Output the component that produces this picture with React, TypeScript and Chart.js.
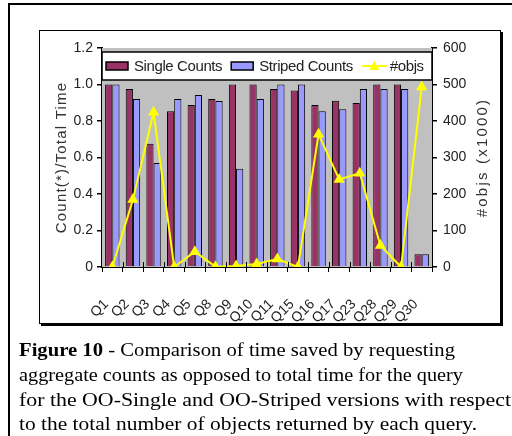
import React, { useEffect, useLayoutEffect, useRef } from 'react';
import { Chart, registerables } from 'chart.js';

Chart.register(...registerables);

const categories = ['Q1', 'Q2', 'Q3', 'Q4', 'Q5', 'Q8', 'Q9', 'Q10', 'Q11', 'Q15', 'Q16', 'Q17', 'Q23', 'Q28', 'Q29', 'Q30'];
const singleCounts = [1.0, 0.976, 0.676, 0.854, 0.887, 0.92, 1.0, 1.0, 0.976, 0.967, 0.887, 0.911, 0.898, 1.0, 1.0, 0.07];
const stripedCounts = [1.0, 0.92, 0.57, 0.92, 0.943, 0.91, 0.539, 0.92, 1.0, 1.0, 0.854, 0.865, 0.976, 0.976, 0.976, 0.07];
const objs = [0, 185, 424, 0, 42, 1, 3, 8, 22, 0, 364, 240, 257, 59, 0, 493];

const leftTitle = 'Count(*)/Total Time';
const rightTitle = '#objs (x1000)';
const captionLines = [
  ['Figure 10', ' - Comparison of time saved by requesting'],
  ['', 'aggregate counts as opposed to total time for the query'],
  ['', 'for the OO-Single and OO-Striped versions with respect'],
  ['', 'to the total number of objects returned by each query.'],
];
const captionWidths = [436, 444, 492, 458];

const SANS = "'Liberation Sans', Arial, sans-serif";

const bgPlugin = {
  id: 'plotBg',
  beforeDatasetsDraw(chart: any) {
    const { ctx, chartArea: a } = chart;
    ctx.save();
    ctx.fillStyle = '#C0C0C0';
    ctx.fillRect(a.left, a.top, a.right - a.left, a.bottom - a.top);
    ctx.restore();
  },
};

const crossTicksPlugin = {
  id: 'crossTicks',
  afterDatasetsDraw(chart: any) {
    const { ctx, chartArea: a } = chart;
    const n = chart.data.labels.length;
    const step = (a.right - a.left) / n;
    ctx.save();
    ctx.strokeStyle = '#000';
    ctx.lineWidth = 1;
    for (let i = 1; i < n; i++) {
      const x = Math.round(a.left + i * step) + 0.5;
      ctx.beginPath();
      ctx.moveTo(x, a.bottom - 5);
      ctx.lineTo(x, a.bottom);
      ctx.stroke();
    }
    ctx.restore();
  },
};

const titlesPlugin = {
  id: 'axisTitles',
  afterDraw(chart: any) {
    const { ctx, chartArea: a } = chart;
    const cy = (a.top + a.bottom) / 2;
    const draw = (text: string, x: number, spacing: string) => {
      ctx.save();
      ctx.translate(x, cy);
      ctx.rotate(-Math.PI / 2);
      ctx.font = `15px ${SANS}`;
      (ctx as any).letterSpacing = spacing;
      ctx.fillStyle = '#333';
      ctx.textAlign = 'center';
      ctx.textBaseline = 'middle';
      ctx.fillText(text, 0, 0);
      ctx.restore();
    };
    draw(leftTitle, 62, '1.2px');
    draw(rightTitle, 483, '2.2px');
  },
};

const legendPlugin = {
  id: 'boxLegend',
  afterDatasetsDraw(chart: any) {
    const { ctx, chartArea: a } = chart;
    const top = a.top + 4;
    const h = 28;
    ctx.save();
    ctx.fillStyle = '#fff';
    ctx.fillRect(a.left, top, a.right - a.left, h);
    ctx.strokeStyle = '#000';
    ctx.lineWidth = 1.5;
    ctx.strokeRect(a.left, top, a.right - a.left, h);
    ctx.font = `15px ${SANS}`;
    (ctx as any).letterSpacing = '-0.4px';
    ctx.textBaseline = 'middle';
    ctx.fillStyle = '#222';
    const cy = top + h / 2;
    let x = a.left + 4;
    const order = [1, 2, 0];
    order.forEach((i) => {
      const ds = chart.data.datasets[i];
      if (ds.type === 'line') {
        ctx.strokeStyle = ds.borderColor;
        ctx.lineWidth = 2;
        ctx.beginPath();
        ctx.moveTo(x, cy);
        ctx.lineTo(x + 25, cy);
        ctx.stroke();
        ctx.fillStyle = ds.pointBackgroundColor;
        ctx.beginPath();
        ctx.moveTo(x + 12.5, cy - 5);
        ctx.lineTo(x + 17.5, cy + 4);
        ctx.lineTo(x + 7.5, cy + 4);
        ctx.closePath();
        ctx.fill();
        x += 28;
      } else {
        ctx.fillStyle = ds.backgroundColor;
        ctx.fillRect(x, cy - 4, 22, 8);
        ctx.strokeStyle = '#000';
        ctx.lineWidth = 1.5;
        ctx.strokeRect(x, cy - 4, 22, 8);
        x += 28;
      }
      ctx.fillStyle = '#222';
      ctx.fillText(ds.label, x, cy + 1);
      x += ctx.measureText(ds.label).width + 9;
    });
    ctx.restore();
  },
};

export default function App() {
  const ref = useRef<HTMLCanvasElement | null>(null);
  const lineRefs = useRef<(HTMLSpanElement | null)[]>([]);

  useLayoutEffect(() => {
    lineRefs.current.forEach((el, i) => {
      if (!el) return;
      const w = el.getBoundingClientRect().width;
      if (w > 0) el.style.transform = `scaleX(${captionWidths[i] / w})`;
    });
  }, []);

  useEffect(() => {
    if (!ref.current) return;
    const tickFont = { family: SANS, size: 14 };
    const chart = new Chart(ref.current, {
      type: 'bar',
      data: {
        labels: categories,
        datasets: [
          {
            type: 'line',
            label: '#objs',
            data: objs,
            yAxisID: 'y1',
            borderColor: '#FFFF00',
            backgroundColor: '#FFFF00',
            pointBackgroundColor: '#FFFF00',
            pointBorderColor: '#FFFF00',
            pointStyle: 'triangle',
            pointRadius: 4.5,
            borderWidth: 2,
            tension: 0,
            order: 0,
          } as any,
          {
            type: 'bar',
            label: 'Single Counts',
            data: singleCounts,
            yAxisID: 'y',
            backgroundColor: '#993366',
            borderColor: '#000',
            borderWidth: 1,
            categoryPercentage: 0.7,
            barPercentage: 1,
            order: 1,
          },
          {
            type: 'bar',
            label: 'Striped Counts',
            data: stripedCounts,
            yAxisID: 'y',
            backgroundColor: '#9999FF',
            borderColor: '#000',
            borderWidth: 1,
            categoryPercentage: 0.7,
            barPercentage: 1,
            order: 2,
          },
        ],
      },
      options: {
        responsive: false,
        animation: false,
        layout: { padding: { left: 0, right: 0, top: 48, bottom: 0 } },
        plugins: { legend: { display: false }, tooltip: { enabled: false }, title: { display: false } },
        scales: {
          x: {
            grid: { offset: true, drawOnChartArea: false, drawTicks: true, tickLength: 5, color: '#000', lineWidth: 1 },
            border: { display: true, color: '#000', width: 2 },
            ticks: { minRotation: 45, maxRotation: 45, autoSkip: false, font: tickFont, color: '#222', padding: 24, labelOffset: -6 },
            afterFit: (s: any) => { s.height = 169; },
          },
          y: {
            position: 'left',
            min: 0,
            max: 1.2,
            ticks: { stepSize: 0.2, font: tickFont, color: '#222', padding: 4 },
            grid: { drawOnChartArea: false, tickLength: 5, color: '#000', lineWidth: 1.5 },
            border: { display: true, color: '#000', width: 2 },
            afterFit: (s: any) => { s.width = 102; },
          },
          y1: {
            position: 'right',
            min: 0,
            max: 600,
            ticks: { stepSize: 100, font: tickFont, color: '#222', padding: 6 },
            grid: { drawOnChartArea: false, tickLength: 5, color: '#000', lineWidth: 1.5 },
            border: { display: true, color: '#000', width: 2 },
            afterFit: (s: any) => { s.width = 80; },
          },
        },
      },
      plugins: [bgPlugin, crossTicksPlugin, legendPlugin, titlesPlugin],
    });
    return () => chart.destroy();
  }, []);

  return (
    <div style={{ position: 'absolute', left: 0, top: 0, width: 512, height: 436, overflow: 'hidden', background: '#fff' }}>
      <div style={{ position: 'absolute', left: 8, top: 3, width: 540, height: 480, border: '2px solid #000' }} />
      <div style={{ position: 'absolute', left: 39, top: 30, width: 460, height: 292, border: '1.5px solid #000', boxShadow: '2px 2px 0 #000' }} />
      <canvas ref={ref} width={512} height={436} style={{ position: 'absolute', left: 0, top: 0, width: 512, height: 436 }} />
      {captionLines.map((ln, i) => (
        <div
          key={i}
          style={{
            position: 'absolute',
            left: 19,
            top: 338 + i * 24.8,
            whiteSpace: 'nowrap',
            fontFamily: "'Liberation Serif', 'Times New Roman', serif",
            fontSize: 18,
            lineHeight: '24px',
            color: '#000',
          }}
        >
          <span
            ref={(el) => { lineRefs.current[i] = el; }}
            style={{ display: 'inline-block', transformOrigin: 'left center' }}
          >
            {ln[0] ? <b>{ln[0]}</b> : null}
            {ln[1]}
          </span>
        </div>
      ))}
    </div>
  );
}
